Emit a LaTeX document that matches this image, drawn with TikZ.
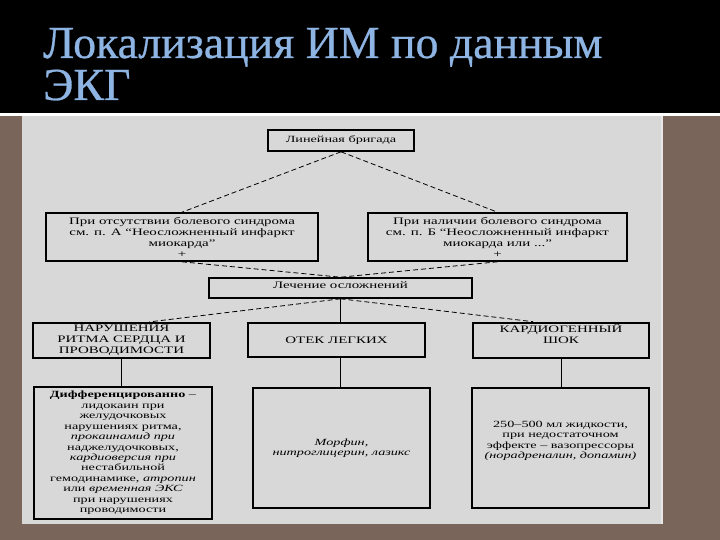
\documentclass[tikz,border=0pt]{standalone}
\usepackage{fontspec}
\setmainfont{Liberation Serif}
\newfontfamily\widefont[FakeStretch=1.5]{Liberation Serif}
\newfontfamily\titlefont[FakeBold=0.6]{Liberation Serif}
\usetikzlibrary{calc}
\definecolor{slidebrown}{RGB}{121,101,90}
\definecolor{panelgray}{RGB}{216,216,216}
\definecolor{titleblue}{RGB}{141,180,226}

\begin{document}
\begin{tikzpicture} [x=1bp, y=-1bp,
                box/.style = {draw, line width=1.6bp, inner sep=1bp, align=center, font=\widefont\fontsize{10}{11}\selectfont},
                heavy/.style = {line width=2.2bp},
                small/.style = {font=\widefont\fontsize{9.5}{10.5}\selectfont},
                link/.style = {line width=0.8bp, dash pattern=on 5bp off 3bp},
                stem/.style = {line width=1bp}
            ]
            \useasboundingbox (0,0) rectangle (720,540);
            % slide background
            \fill [black] (0,0) rectangle (720,113);
            \fill [white] (0,113) rectangle (720,116);
            \fill [slidebrown] (0,116) rectangle (720,540);
            \fill [panelgray] (22,116) rectangle (661,524);
            \fill [panelgray!60!white] (661,116) rectangle (663,524);
            \node [anchor=base west, inner sep=0, text=titleblue, font=\titlefont\fontsize{46}{46}\selectfont] (title1) at (43,58) {Локализация ИМ по данным};
            \node [anchor=base west, inner sep=0, text=titleblue, font=\titlefont\fontsize{46}{46}\selectfont] (title2) at (43,100) {ЭКГ};
            % first levels
            \node (team) at (341,140.5) [box, small, minimum width=146bp, minimum height=21bp] {Линейная бригада};
            \node (noPain) at (182,237) [box, minimum width=272bp, minimum height=48bp] {При отсутствии болевого синдрома\\см. п. А “Неосложненный инфаркт\\миокарда”\\+};
            \node (pain) at (497.5,237) [box, minimum width=259bp, minimum height=48bp] {При наличии болевого синдрома\\см. п. Б “Неосложненный инфаркт\\миокарда или ...”\\+};
            \node (compl) at (340.5,288) [box, minimum width=263bp, minimum height=20bp, text depth=5bp] {Лечение осложнений};
            \draw [link] (team.south) -- (noPain.north);
            \draw [link] (team.south) -- (pain.north);
            \draw [link] (noPain.south) -- (compl.north);
            \draw [link] (pain.south) -- (compl.north);
            % complications
            \node (arr) at (121.5,340.5) [box, heavy, minimum width=177bp, minimum height=35bp] {НАРУШЕНИЯ\\РИТМА СЕРДЦА И\\ПРОВОДИМОСТИ};
            \node (edema) at (336.5,340) [box, heavy, minimum width=177bp, minimum height=34bp] {ОТЕК ЛЕГКИХ};
            \node (shock) at (561,340.5) [box, heavy, minimum width=176bp, minimum height=35bp, text depth=14bp] {КАРДИОГЕННЫЙ\\ШОК};
            \draw [link] (compl.south) -- ([xshift=28bp] arr.north);
            \draw [stem] (compl.south) -- (compl.south |- edema.north);
            \draw [link] (compl.south) -- ([xshift=-28bp] shock.north);
            % treatment
            \node (arrTx) at (123,453) [box, heavy, small, minimum width=178bp, minimum height=132bp] {\textbf{Дифференцированно} –\\лидокаин при\\желудочковых\\нарушениях ритма,\\\textit{прокаинамид при}\\наджелудочковых,\\\textit{кардиоверсия при}\\нестабильной\\гемодинамике, \textit{атропин}\\или \textit{временная ЭКС}\\при нарушениях\\проводимости};
            \node (edemaTx) at (341.5,448) [box, heavy, small, minimum width=177bp, minimum height=120bp] {\textit{Морфин,}\\\textit{нитроглицерин, лазикс}};
            \node (shockTx) at (560.5,448) [box, heavy, small, minimum width=177bp, minimum height=120bp, text depth=16bp] {250–500 мл жидкости,\\при недостаточном\\эффекте – вазопрессоры\\\textit{(норадреналин, допамин)}};
            \draw [stem] (arr.south) -- (arr.south |- arrTx.north);
            \draw [stem] (compl.south |- edema.south) -- (compl.south |- edemaTx.north);
            \draw [stem] (shock.south) -- (shock.south |- shockTx.north);
        \end{tikzpicture}
\end{document}
